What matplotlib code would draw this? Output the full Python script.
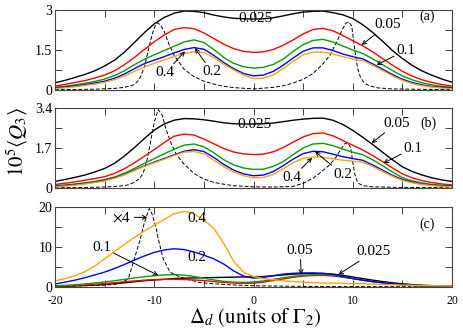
import numpy as np
import matplotlib
matplotlib.use("Agg")
import matplotlib.pyplot as plt

plt.rcParams['font.family'] = ['Liberation Serif', 'DejaVu Serif']
plt.rcParams['mathtext.fontset'] = 'stix'
plt.rcParams['axes.unicode_minus'] = False

# detuning grid (units of Gamma_2) for the solid curves
detuning = np.arange(-20, 21)

# panel (a)
a_black = [0.27, 0.36, 0.47, 0.58, 0.72, 0.90, 1.12, 1.42, 1.78, 2.15, 2.48,
           2.72, 2.88, 2.96, 2.95, 2.90, 2.81, 2.74, 2.69, 2.67, 2.66,
           2.67, 2.71, 2.78, 2.86, 2.92, 2.95, 2.96, 2.90, 2.82, 2.68,
           2.45, 2.16, 1.83, 1.48, 1.18, 0.92, 0.71, 0.55, 0.41, 0.29]
a_red = [0.15, 0.21, 0.28, 0.35, 0.45, 0.56, 0.72, 0.95, 1.22, 1.52, 1.81,
         2.06, 2.27, 2.34, 2.30, 2.14, 1.93, 1.72, 1.55, 1.45, 1.41,
         1.43, 1.52, 1.68, 1.88, 2.10, 2.27, 2.31, 2.22, 2.04, 1.85,
         1.66, 1.43, 1.18, 0.93, 0.70, 0.52, 0.38, 0.28, 0.20, 0.15]
a_green = [0.10, 0.14, 0.19, 0.25, 0.32, 0.41, 0.54, 0.72, 0.95, 1.15, 1.32,
           1.48, 1.64, 1.80, 1.88, 1.78, 1.52, 1.22, 1.00, 0.87, 0.82,
           0.85, 0.96, 1.16, 1.45, 1.70, 1.86, 1.90, 1.80, 1.65, 1.50,
           1.37, 1.17, 0.95, 0.73, 0.53, 0.38, 0.27, 0.19, 0.13, 0.10]
a_blue = [0.08, 0.11, 0.15, 0.20, 0.26, 0.33, 0.44, 0.60, 0.80, 0.99, 1.12,
          1.25, 1.39, 1.52, 1.59, 1.53, 1.30, 1.03, 0.80, 0.62, 0.53,
          0.56, 0.70, 0.93, 1.20, 1.45, 1.58, 1.58, 1.48, 1.35, 1.25,
          1.17, 0.98, 0.78, 0.58, 0.40, 0.28, 0.19, 0.13, 0.10, 0.08]
a_orange = [0.05, 0.08, 0.12, 0.17, 0.22, 0.29, 0.39, 0.53, 0.70, 0.86, 1.00,
            1.13, 1.26, 1.37, 1.43, 1.40, 1.22, 0.97, 0.75, 0.56, 0.43,
            0.44, 0.57, 0.80, 1.08, 1.32, 1.42, 1.42, 1.35, 1.25, 1.16,
            1.10, 0.93, 0.73, 0.53, 0.36, 0.24, 0.16, 0.11, 0.07, 0.05]
a_dash_x = [-20, -16, -14, -13, -12, -11.5, -11, -10.6, -10.2, -9.9,
            -9.7, -9.4, -9, -8.5, -8, -7, -6, -5, -4, -3,
            -2, 0, 2, 3, 4, 5, 6, 7, 7.7, 8.5,
            9, 9.3, 9.6, 9.9, 10.2, 10.5, 10.8, 11.2, 11.6, 12.5, 14, 20]
a_dash_y = [0.01, 0.03, 0.06, 0.10, 0.20, 0.40, 0.85, 1.50, 2.10, 2.42,
            2.52, 2.45, 2.20, 1.70, 1.30, 0.78, 0.50, 0.33, 0.22, 0.14,
            0.09, 0.04, 0.10, 0.16, 0.26, 0.40, 0.62, 0.98, 1.30, 1.90,
            2.30, 2.50, 2.56, 2.40, 1.50, 0.80, 0.45, 0.25, 0.17, 0.08, 0.04, 0.01]

# panel (b)
b_black = [0.28, 0.36, 0.45, 0.55, 0.68, 0.83, 1.05, 1.36, 1.72, 2.10, 2.46,
           2.72, 2.88, 2.95, 2.94, 2.90, 2.84, 2.77, 2.73, 2.72, 2.72,
           2.73, 2.76, 2.82, 2.88, 2.93, 2.96, 2.97, 2.88, 2.70, 2.45,
           2.16, 1.85, 1.52, 1.20, 0.90, 0.70, 0.55, 0.43, 0.34, 0.28]
b_red = [0.15, 0.20, 0.26, 0.33, 0.40, 0.48, 0.62, 0.82, 1.07, 1.35, 1.63,
         1.93, 2.20, 2.29, 2.25, 2.08, 1.88, 1.68, 1.53, 1.45, 1.42,
         1.44, 1.54, 1.72, 1.95, 2.17, 2.31, 2.34, 2.22, 2.02, 1.82,
         1.62, 1.38, 1.12, 0.85, 0.60, 0.43, 0.31, 0.23, 0.17, 0.13]
b_green = [0.10, 0.13, 0.17, 0.22, 0.28, 0.36, 0.47, 0.63, 0.83, 1.05, 1.25,
           1.45, 1.65, 1.82, 1.87, 1.75, 1.50, 1.20, 0.98, 0.85, 0.79,
           0.80, 0.92, 1.12, 1.42, 1.70, 1.87, 1.90, 1.80, 1.65, 1.52,
           1.42, 1.20, 0.95, 0.68, 0.44, 0.30, 0.21, 0.15, 0.12, 0.10]
b_blue = [0.07, 0.10, 0.14, 0.19, 0.25, 0.32, 0.43, 0.58, 0.76, 0.94, 1.10,
          1.25, 1.41, 1.56, 1.63, 1.55, 1.30, 1.00, 0.76, 0.60, 0.52,
          0.55, 0.70, 0.95, 1.23, 1.46, 1.56, 1.54, 1.44, 1.33, 1.25,
          1.18, 0.98, 0.76, 0.54, 0.36, 0.25, 0.17, 0.12, 0.09, 0.07]
b_orange = [0.05, 0.08, 0.12, 0.17, 0.23, 0.30, 0.41, 0.56, 0.74, 0.92, 1.07,
            1.22, 1.38, 1.52, 1.55, 1.45, 1.18, 0.90, 0.68, 0.52, 0.43,
            0.45, 0.58, 0.82, 1.08, 1.26, 1.32, 1.30, 1.24, 1.18, 1.14,
            1.10, 0.92, 0.70, 0.50, 0.32, 0.22, 0.15, 0.10, 0.07, 0.05]
b_dash_x = [-20, -16, -14, -13, -12.5, -12, -11.5, -11.1, -10.7, -10.4,
            -10, -9.6, -9.2, -8.8, -8.3, -7.8, -7.1, -6, -5, -4,
            -3, -2, 0, 2, 4, 5, 5.4, 6, 6.7, 7.7,
            8.3, 8.8, 9.2, 9.5, 9.8, 10, 10.2, 10.5, 11, 12, 14, 20]
b_dash_y = [0.01, 0.03, 0.06, 0.10, 0.15, 0.25, 0.40, 0.64, 1.25, 1.90,
            2.80, 3.33, 3.10, 2.48, 1.90, 1.45, 1.06, 0.62, 0.38, 0.24,
            0.16, 0.10, 0.05, 0.04, 0.07, 0.20, 0.28, 0.42, 0.64, 0.99,
            1.30, 1.65, 1.88, 1.93, 1.70, 1.10, 0.60, 0.22, 0.10, 0.05, 0.03, 0.01]

# panel (c)
c_black = [0.15, 0.20, 0.28, 0.38, 0.50, 0.65, 0.85, 1.05, 1.30, 1.55, 1.75,
           1.90, 2.10, 2.20, 2.25, 2.30, 2.35, 2.40, 2.45, 2.50, 2.50,
           2.60, 2.80, 3.00, 3.20, 3.30, 3.35, 3.35, 3.20, 2.90, 2.50,
           2.10, 1.70, 1.35, 1.05, 0.80, 0.60, 0.45, 0.33, 0.25, 0.20]
c_red = [0.20, 0.28, 0.38, 0.50, 0.65, 0.85, 1.05, 1.30, 1.50, 1.70, 1.82,
         1.90, 1.90, 1.85, 1.75, 1.60, 1.35, 1.15, 0.98, 0.90, 0.95,
         1.20, 1.60, 2.00, 2.40, 2.70, 2.85, 2.90, 2.75, 2.45, 2.10,
         1.70, 1.35, 1.05, 0.80, 0.55, 0.40, 0.28, 0.20, 0.15, 0.10]
c_green = [0.30, 0.40, 0.55, 0.75, 1.00, 1.25, 1.55, 1.90, 2.25, 2.55, 2.80,
           3.00, 3.05, 2.95, 2.60, 2.20, 1.75, 1.40, 1.20, 1.15, 1.25,
           1.50, 1.90, 2.30, 2.65, 2.90, 3.05, 3.10, 2.90, 2.50, 2.10,
           1.70, 1.35, 1.05, 0.80, 0.55, 0.40, 0.28, 0.20, 0.15, 0.10]
c_blue = [0.74, 1.20, 1.70, 2.30, 3.00, 3.70, 4.60, 5.60, 6.70, 7.70, 8.60,
          9.20, 9.50, 9.30, 8.70, 7.90, 7.00, 5.70, 4.00, 2.70, 2.20,
          2.40, 2.80, 3.20, 3.40, 3.50, 3.50, 3.40, 3.10, 2.60, 2.10,
          1.70, 1.35, 1.05, 0.80, 0.60, 0.45, 0.33, 0.25, 0.19, 0.15]
c_orange = [1.49, 2.10, 2.80, 3.80, 5.20, 7.00, 8.80, 10.60, 12.30, 13.90, 15.30,
            16.80, 18.20, 18.80, 18.20, 16.60, 14.60, 10.80, 6.40, 3.70, 2.60,
            2.10, 1.80, 1.55, 1.35, 1.20, 1.10, 1.00, 0.95, 0.90, 0.85,
            0.80, 0.72, 0.62, 0.55, 0.48, 0.42, 0.36, 0.32, 0.28, 0.25]
c_dash_x = [-20, -17, -15, -14, -13.3, -12.6, -12.1, -11.4, -11.0, -10.5,
            -10.2, -9.8, -9.6, -9.1, -8.4, -7.4, -6.5, -5.4, -4, -2,
            0, 5, 10, 20]
c_dash_y = [0.2, 0.3, 0.45, 0.65, 1.0, 2.1, 6.2, 12.0, 16.0, 19.5,
            18.0, 14.5, 12.0, 7.0, 3.7, 2.5, 1.8, 1.1, 0.8, 0.5,
            0.3, 0.15, 0.1, 0.05]

colors = ['black', 'red', '#00a000', 'blue', 'orange']

fig = plt.figure(figsize=(4.63, 3.30), dpi=100)
W, H = 463, 330
def box(top, bottom):
    return [55 / W, 1 - bottom / H, (452 - 55) / W, (bottom - top) / H]

ax_a = fig.add_axes(box(10, 90))
ax_b = fig.add_axes(box(108, 188))
ax_c = fig.add_axes(box(206.5, 287))

panels = [
    (ax_a, [a_black, a_red, a_green, a_blue, a_orange], a_dash_x, a_dash_y, 3.0, [0, 1.5, 3], ['0', '1.5', '3'], 0.75),
    (ax_b, [b_black, b_red, b_green, b_blue, b_orange], b_dash_x, b_dash_y, 3.4, [0, 1.7, 3.4], ['0', '1.7', '3.4'], 0.85),
    (ax_c, [c_black, c_red, c_green, c_blue, c_orange], c_dash_x, c_dash_y, 20, [0, 10, 20], ['0', '10', '20'], 5),
]

for ax, curves, dx, dy, ymax, yt, ytl, ystep in panels:
    ax.plot(dx, dy, color='black', lw=0.7, ls=(0, (4, 2)))
    for vals, col in zip(curves, colors):
        ax.plot(detuning, vals, color=col, lw=1.0)
    ax.set_xlim(-20, 20)
    ax.set_ylim(0, ymax)
    ax.set_yticks(yt)
    ax.set_yticklabels(ytl, fontsize=10)
    ax.set_yticks(np.arange(0, ymax + 1e-6, ystep), minor=True)
    ax.set_xticks([-20, -10, 0, 10, 20])
    ax.set_xticks([-15, -5, 5, 15], minor=True)
    ax.tick_params(which='both', direction='in', top=True, right=True,
                   length=5, width=0.7, color='#444444', pad=2)
    for s in ax.spines.values():
        s.set_linewidth(0.8)
        s.set_color('#444444')

ax_a.set_xticklabels([])
ax_b.set_xticklabels([])
ax_c.set_xticklabels(['-20', '-10', '0', '10', '20'], fontsize=8.5)
ax_c.tick_params(axis='x', pad=5.5)

arr = dict(arrowstyle='->', color='black', lw=0.7, mutation_scale=7,
           shrinkA=0, shrinkB=0)
fs = 11

# panel (a) labels
ax_a.text(0.2, 2.68, '0.025', fontsize=fs, ha='center', va='center')
ax_a.text(17.5, 2.75, '(a)', fontsize=10, ha='center', va='center')
ax_a.annotate('0.05', xy=(10.9, 1.69), xytext=(13.5, 2.44), fontsize=fs,
              ha='center', va='center', arrowprops=arr)
ax_a.annotate('0.1', xy=(12.4, 0.94), xytext=(15.4, 1.5), fontsize=fs,
              ha='center', va='center', arrowprops=arr)
ax_a.annotate('0.4', xy=(-6.9, 1.45), xytext=(-8.9, 0.64), fontsize=fs,
              ha='center', va='center', arrowprops=arr)
ax_a.annotate('0.2', xy=(-5.9, 1.57), xytext=(-4.2, 0.68), fontsize=fs,
              ha='center', va='center', arrowprops=arr)

# panel (b) labels
ax_b.text(0.15, 2.69, '0.025', fontsize=fs, ha='center', va='center')
ax_b.text(17.6, 2.76, '(b)', fontsize=10, ha='center', va='center')
ax_b.annotate('0.05', xy=(11.9, 1.91), xytext=(14.4, 2.74), fontsize=fs,
              ha='center', va='center', arrowprops=arr)
ax_b.annotate('0.1', xy=(13.1, 1.06), xytext=(16.1, 1.70), fontsize=fs,
              ha='center', va='center', arrowprops=arr)
ax_b.annotate('0.4', xy=(5.9, 1.28), xytext=(3.9, 0.44), fontsize=fs,
              ha='center', va='center', arrowprops=arr)
ax_b.annotate('0.2', xy=(6.2, 1.55), xytext=(9.0, 0.57), fontsize=fs,
              ha='center', va='center', arrowprops=arr)

# panel (c) labels
ax_c.text(17.45, 15.5, '(c)', fontsize=10, ha='center', va='center')
ax_c.annotate(r'$\times$4', xy=(-10.7, 17.3), xytext=(-13.25, 17.3), fontsize=fs,
              ha='center', va='center', arrowprops=arr)
ax_c.text(-5.7, 17.0, '0.4', fontsize=fs, ha='center', va='center')
ax_c.text(-5.7, 7.45, '0.2', fontsize=fs, ha='center', va='center')
ax_c.annotate('0.1', xy=(-9.6, 2.9), xytext=(-15.3, 9.9), fontsize=fs,
              ha='center', va='center', arrowprops=arr)
ax_c.annotate('0.05', xy=(4.8, 3.1), xytext=(4.7, 9.1), fontsize=fs,
              ha='center', va='center', arrowprops=arr)
ax_c.annotate('0.025', xy=(8.55, 3.1), xytext=(12.1, 8.7), fontsize=fs,
              ha='center', va='center', arrowprops=arr)

fig.text(17 / W, 1 - 142 / H, r'$10^5\langle Q_3\rangle$', fontsize=15,
         rotation=90, ha='center', va='center')
fig.text(255 / W, 1 - 318 / H, r'$\Delta_d\ (\mathrm{units\ of\ }\Gamma_2)$',
         fontsize=15, ha='center', va='center')

fig.savefig('out.png', dpi=100)
